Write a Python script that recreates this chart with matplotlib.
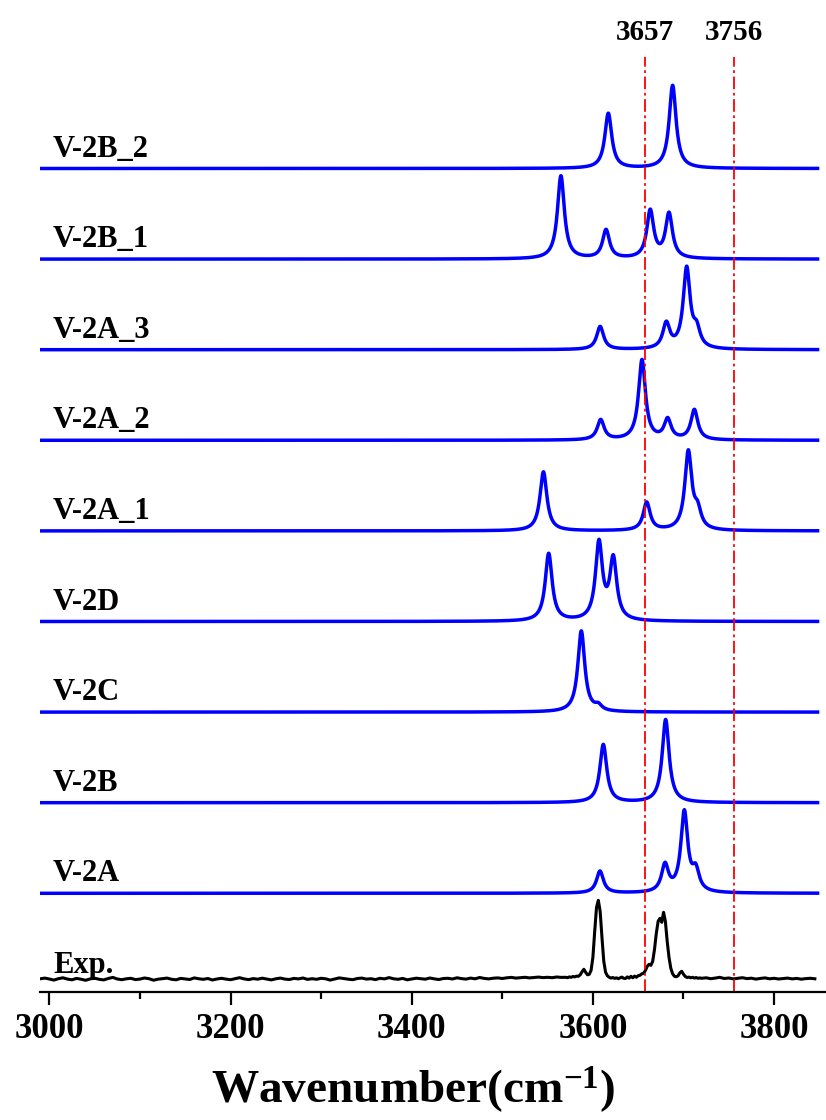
import numpy as np
import matplotlib.pyplot as plt
from matplotlib.ticker import MultipleLocator

plt.rcParams['font.family'] = 'Liberation Serif'
plt.rcParams['font.weight'] = 'bold'
plt.rcParams['axes.labelweight'] = 'bold'
plt.rcParams['mathtext.fontset'] = 'custom'
plt.rcParams['mathtext.rm'] = 'Liberation Serif:bold'
plt.rcParams['mathtext.bf'] = 'Liberation Serif:bold'
plt.rcParams['mathtext.default'] = 'rm'

# calculated OH stretch bands (cm-1) and peak heights, bottom row first
names = ['V-2A', 'V-2B', 'V-2C', 'V-2D', 'V-2A_1', 'V-2A_2', 'V-2A_3', 'V-2B_1', 'V-2B_2']
freqs = [
    [3607.8, 3679.6, 3700.9, 3713.5],
    [3611.5, 3680.3],
    [3587.2, 3606.0],
    [3551.2, 3606.7, 3622.5],
    [3545.4, 3659.4, 3705.3, 3715.6],
    [3608.6, 3654.2, 3682.5, 3712.0],
    [3608.0, 3681.0, 3703.5, 3714.5],
    [3564.7, 3614.5, 3663.3, 3684.0],
    [3617.0, 3688.0],
]
heights = [
    [22, 27, 80, 20],
    [58, 83],
    [81, 5],
    [67.5, 77, 60.5],
    [59, 28, 78, 17],
    [20, 80, 20, 30],
    [23, 25, 80, 17],
    [83, 28.5, 47.5, 44.5],
    [55, 83],
]

# experimental spectrum
exp_lo = [0.5, 1.2, 0.3, -0.8, 0.6, 1.5, 0.2, -0.5, 0.9, 0.1,
          -1.0, 0.4, 1.1, 0.0, -0.6, 0.8, 1.9, 0.3, -0.4, 0.5,
          1.0, -0.3, 0.2, 1.3, 0.6, -0.9, 0.1, 0.7, 1.2, 0.0,
          -0.5, 0.9, 0.4, -0.2, 1.4, 0.5, 0.0, 0.8, -0.7, 0.3,
          1.0, 0.2, -0.4, 0.6, 1.6, 0.4, -0.3, 0.7, 0.1, 1.1,
          0.3, -0.6, 0.5, 1.2, 0.2, -0.2, 0.9, 0.4, 1.3, -0.1,
          0.6, 0.0, 1.0, 0.5, -0.8, 0.3, 1.4, 0.7, 0.1, -0.4,
          0.8, 1.2, 0.2, 0.6, -0.3, 1.0, 0.4, 1.7, 0.5, 0.0,
          0.9, -0.5, 0.3, 1.1, 0.6, 0.1, 1.3, 0.4, -0.2, 0.8,
          1.0, 0.3, 1.5, 0.7, 0.2, 1.2, 0.5, 1.8, 0.9, 0.4,
          1.1, 1.4, 0.8, 1.5, 1.9, 1.2, 1.6, 2.0, 1.4, 1.8,
          2.2, 1.7, 2.0, 1.6, 2.3, 1.9]
exp_mid = [2.0, 1.6, 2.4, 2.0, 2.8, 2.4, 3.2, 3.0, 4.5, 7.5,
           10.0, 7.0, 4.5, 5.0, 9.0, 22.0, 48.0, 72.0, 79.0, 68.0,
           42.0, 18.0, 7.0, 3.5, 2.0, 1.2, 1.8, 0.9, 1.5, 0.6,
           1.4, 2.2, 1.0, 0.8, 2.4, 1.2, 3.0, 1.5, 3.2, 2.0,
           3.6, 4.0, 5.5, 6.0, 9.0, 13.0, 15.0, 14.0, 18.0, 30.0,
           46.0, 58.0, 61.0, 57.0, 67.0, 58.0, 38.0, 22.0, 11.0, 5.5,
           3.0, 2.5, 3.5, 6.5, 8.0, 5.0, 2.8, 1.8, 2.2, 1.5,
           2.0, 1.2, 1.8, 1.0, 1.4]
exp_hi = [1.0, 1.5, 0.6, 1.2, 2.0, 0.8, 1.3, 0.4, 1.0, 1.6,
          0.7, 1.1, 0.2, 0.9, 1.4, 0.5, 1.0, 0.3, 0.8, 1.2,
          0.4, 0.9, 0.1, 0.7, 1.0, 0.5]
exp_wn = np.concatenate([np.arange(2990, 3570, 5), np.arange(3570, 3720, 2),
                         np.arange(3720, 3850, 5)])
exp_int = np.array(exp_lo + exp_mid + exp_hi)

ref_lines = [3657, 3756]

hwhm = 4.6
wn = np.linspace(2990, 3848, 3000)


def broaden(centres, amps):
    y = np.zeros_like(wn)
    for c, a in zip(centres, amps):
        y += a / (1 + ((wn - c) / hwhm) ** 2)
    return y


fig = plt.figure(figsize=(8.26, 11.2), dpi=100)
ax = fig.add_axes([40 / 826, 1 - 991.7 / 1120, 786 / 826, (991.7 - 57) / 1120])

ax.plot(exp_wn, exp_int, color='black', lw=2.2)
ax.text(3004, 6, 'Exp.', fontsize=22, va='baseline')

for i, (name, f, h) in enumerate(zip(names, freqs, heights)):
    off = 86 + 90.6 * i
    ax.plot(wn, off + broaden(f, h), color='#0000ff', lw=2.5)
    ax.text(3004, off + 12, name, fontsize=22, va='baseline')

for x in ref_lines:
    ax.axvline(x, color='red', lw=1.3, ls=(0, (7, 2, 1.5, 2)))
    ax.text(x, 922.3 + 17, str(x), fontsize=21, ha='center', va='baseline')

ax.set_xlim(2989.7, 3857.3)
ax.set_ylim(-12.4, 922.3)
ax.xaxis.set_major_locator(MultipleLocator(200))
ax.xaxis.set_minor_locator(MultipleLocator(100))
ax.tick_params(axis='x', which='major', direction='out', length=9, width=1.6,
               labelsize=25, pad=6)
ax.tick_params(axis='x', which='minor', direction='out', length=5, width=1.6)
ax.set_yticks([])
for s in ['left', 'right', 'top']:
    ax.spines[s].set_visible(False)
ax.spines['bottom'].set_linewidth(1.6)
ax.set_xlabel('Wavenumber(cm$^{-1}$)', fontsize=34, fontweight='bold')
ax.xaxis.set_label_coords(0.475, -0.077)

fig.savefig('out.png', dpi=100)
